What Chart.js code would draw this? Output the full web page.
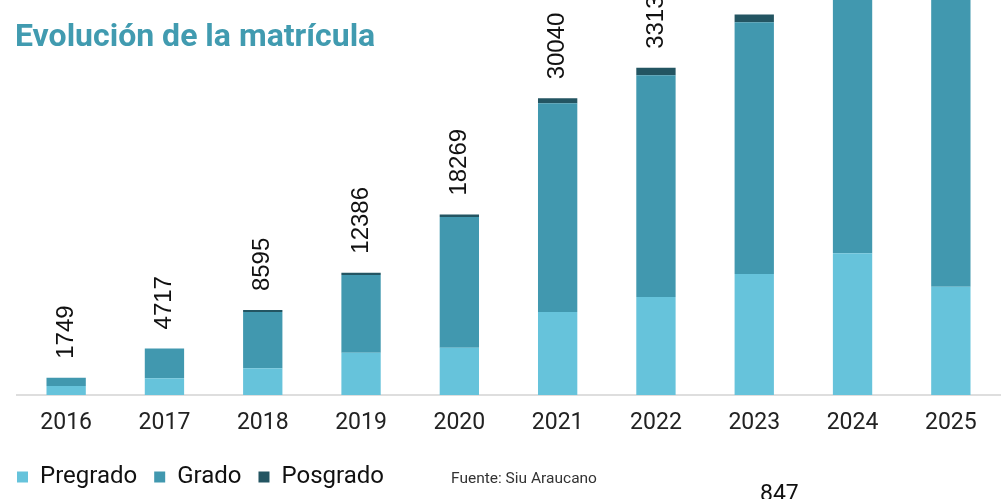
<!DOCTYPE html>
<html lang="es">
<head>
<meta charset="utf-8">
<title>Evolución de la matrícula</title>
<script src="https://cdn.jsdelivr.net/npm/chart.js@4.4.1/dist/chart.umd.min.js"></script>
<style>
  html, body { margin: 0; padding: 0; background: #fff; overflow: hidden; }
  #wrap { position: relative; width: 1005px; height: 499px; }
  #title { position: absolute; left: 15px; top: 19px; font: 700 32px/32px Roboto, sans-serif; color: #419bb0; white-space: nowrap; }
  #fuente { position: absolute; left: 451px; top: 471px; font: 15.5px/15.5px Roboto, sans-serif; color: #333; white-space: nowrap; }
  #cut { position: absolute; left: 760px; top: 482px; font: 23px/23px Roboto, sans-serif; color: #111; white-space: nowrap; }
</style>
</head>
<body>
<div id="wrap">
  <canvas id="chart"></canvas>
  <div id="title">Evolución de la matrícula</div>
  <div id="fuente">Fuente: Siu Araucano</div>
  <div id="cut">847</div>
</div>
<script>
const years = ['2016', '2017', '2018', '2019', '2020', '2021', '2022', '2023', '2024', '2025'];
const pregrado = [915, 1690, 2700, 4285, 4790, 8405, 9925, 12255, 14350, 10965];
const grado = [834, 3027, 5695, 7871, 13244, 21129, 22466, 25495, 27800, 30000];
const posgrado = [0, 0, 200, 230, 235, 506, 740, 780, 850, 900];
const yMax = 40000;

// totals written vertically above each stack
const totalsPlugin = {
  id: 'totals',
  afterDatasetsDraw(chart) {
    const { ctx, scales: { x, y } } = chart;
    ctx.save();
    ctx.font = '24px "Liberation Sans", Arial, sans-serif';
    ctx.fillStyle = '#111';
    ctx.textAlign = 'left';
    ctx.textBaseline = 'middle';
    years.forEach((yr, i) => {
      const total = pregrado[i] + grado[i] + posgrado[i];
      const px = x.getPixelForValue(i);
      const py = y.getPixelForValue(total) - 19;
      ctx.save();
      ctx.translate(px, py);
      ctx.rotate(-Math.PI / 2);
      ctx.fillText(String(total), 0, 0);
      ctx.restore();
    });
    ctx.restore();
  },
};

new Chart(document.getElementById('chart'), {
  type: 'bar',
  data: {
    labels: years,
    datasets: [
      { label: 'Pregrado', data: pregrado, backgroundColor: '#66c3db', borderWidth: 0 },
      { label: 'Grado', data: grado, backgroundColor: '#4198af', borderWidth: 0 },
      { label: 'Posgrado', data: posgrado, backgroundColor: '#235562', borderWidth: 0 },
    ],
  },
  options: {
    responsive: true,
    maintainAspectRatio: false,
    animation: false,
    layout: { padding: { left: 0, right: 5, top: 0, bottom: 0 } },
    datasets: { bar: { barPercentage: 0.4, categoryPercentage: 1.0 } },
    plugins: {
      legend: {
        position: 'bottom',
        align: 'start',
        labels: {
          boxWidth: 11,
          boxHeight: 11,
          padding: 17,
          color: '#111',
          font: { family: 'Roboto', size: 24 },
        },
      },
      tooltip: { enabled: false },
    },
    scales: {
      x: {
        stacked: true,
        grid: { display: false },
        border: { color: '#dedede', width: 2 },
        ticks: { color: '#222', padding: 6, font: { family: 'Roboto', size: 23 } },
        afterFit: (s) => { s.height = 53; },
      },
      y: {
        stacked: true,
        min: 0,
        max: yMax,
        grid: { display: false },
        border: { display: false },
        ticks: { display: false },
        afterFit: (s) => { s.width = 17; },
      },
    },
  },
  plugins: [totalsPlugin],
});
</script>
</body>
</html>
